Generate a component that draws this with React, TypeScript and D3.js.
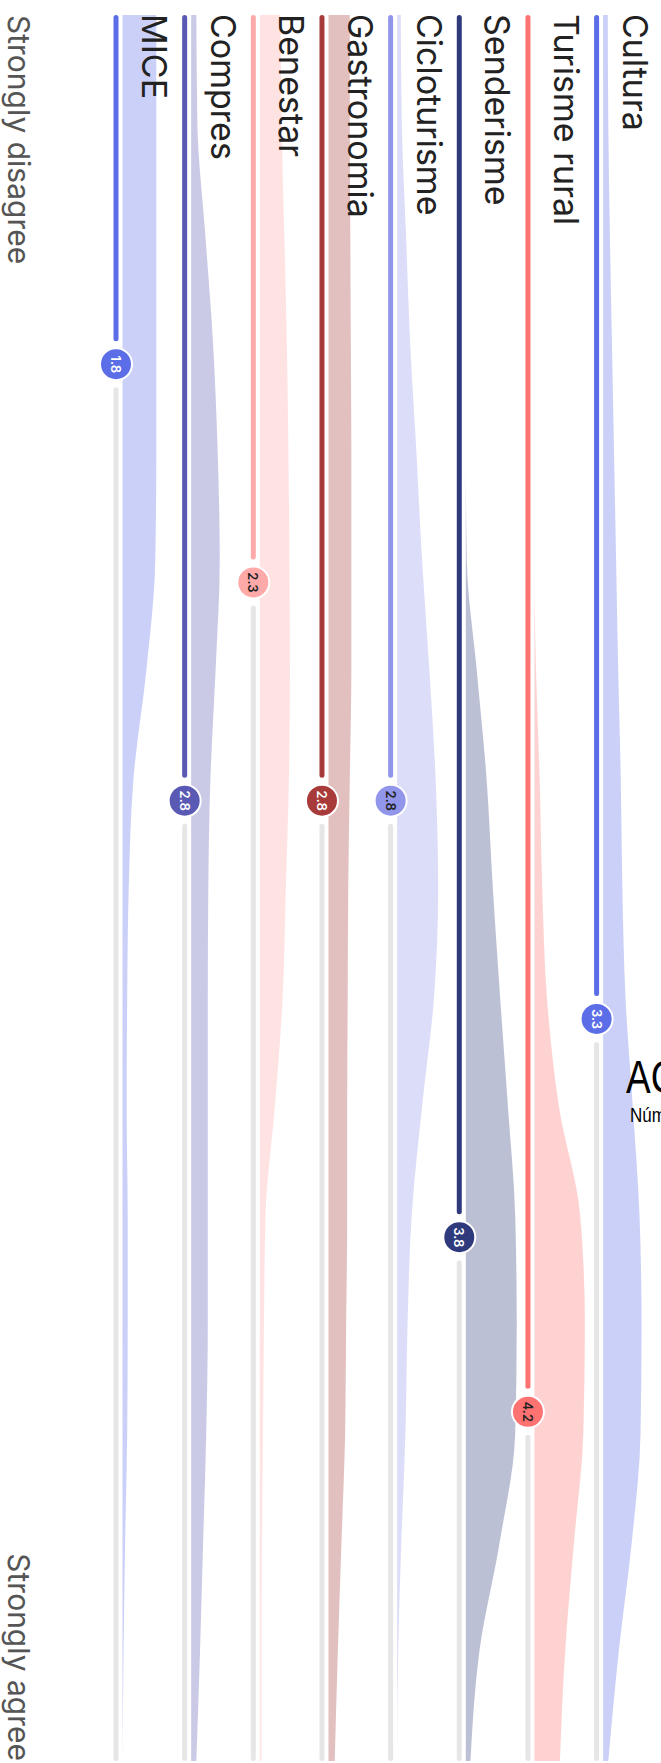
import * as d3 from 'd3';

// categories, top-to-bottom in the original (left-to-right once rotated)
const categories = ['MICE', 'Compres', 'Benestar', 'Gastronomia', 'Cicloturisme', 'Senderisme', 'Turisme rural', 'Cultura'];
const means = [1.8, 2.8, 2.3, 2.8, 2.8, 3.8, 4.2, 3.3];
const colors = ['#5b6ee8', '#5a5ab4', '#ffa9a9', '#a83a3a', '#9296ea', '#2f3a7c', '#ff7272', '#5b6ee8'];
const valueTextColors = ['#ffffff', '#ffffff', '#222222', '#ffffff', '#222222', '#ffffff', '#222222', '#ffffff'];

// score points where the distribution was read (1 = strongly disagree, 5 = strongly agree)
const scorePoints = [1, 1.25, 1.5, 1.75, 2, 2.25, 2.5, 2.75, 3, 3.25, 3.5, 3.75, 4, 4.25, 4.5, 4.75, 5];

const densityMICE = [0.65, 0.65, 0.65, 0.65, 0.65, 0.63, 0.46, 0.21, 0.12, 0.09, 0.08, 0.1, 0.1, 0.09, 0.05, 0.02, 0];
const densityCompres = [0.1, 0.12, 0.27, 0.42, 0.51, 0.55, 0.47, 0.37, 0.33, 0.32, 0.32, 0.32, 0.32, 0.29, 0.23, 0.17, 0.1];
const densityBenestar = [0.4, 0.42, 0.47, 0.52, 0.55, 0.57, 0.58, 0.56, 0.5, 0.44, 0.29, 0.11, 0.08, 0.06, 0.04, 0.03, 0.03];
const densityGastronomia = [0.41, 0.41, 0.42, 0.43, 0.44, 0.44, 0.44, 0.41, 0.38, 0.37, 0.36, 0.36, 0.34, 0.32, 0.25, 0.18, 0.12];
const densityCicloturisme = [0.07, 0.09, 0.17, 0.25, 0.37, 0.48, 0.62, 0.74, 0.79, 0.71, 0.48, 0.28, 0.2, 0.16, 0.08, 0.02, 0];
const densitySenderisme = [0, 0, 0, 0, 0, 0.02, 0.21, 0.4, 0.52, 0.66, 0.81, 0.95, 0.98, 0.95, 0.65, 0.26, 0.09];
const densityTurismeRural = [0, 0, 0, 0, 0, 0, 0.03, 0.1, 0.15, 0.24, 0.47, 0.88, 0.97, 0.94, 0.76, 0.59, 0.49];
const densityCultura = [0.09, 0.1, 0.13, 0.17, 0.21, 0.25, 0.29, 0.34, 0.37, 0.43, 0.57, 0.7, 0.74, 0.72, 0.55, 0.3, 0.1];

const densities = [
  densityMICE, densityCompres, densityBenestar, densityGastronomia,
  densityCicloturisme, densitySenderisme, densityTurismeRural, densityCultura,
];

const WIDTH = 661;
const HEIGHT = 1763;

export default function App() {
  // the chart is drawn rotated: score runs down the page, categories across
  const y = d3.scaleLinear().domain([1, 5]).range([15, 1761]);
  const x = d3.scalePoint<string>().domain(categories).range([116, 596.6]);
  const w = d3.scaleLinear().domain([0, 1]).range([0, 52]);

  const gap = 25.5;

  return (
    <div style={{ position: 'absolute', left: 0, top: 0 }}>
      <svg width={WIDTH} height={HEIGHT} style={{ display: 'block', overflow: 'hidden' }}>
        <rect width={WIDTH} height={HEIGHT} fill="#ffffff" />

        {/* distributions */}
        {categories.map((c, i) => {
          const cx = x(c) || 0;
          const area = d3.area<number>()
            .y((_, j) => y(scorePoints[j]))
            .x0(cx + 6.5)
            .x1(d => cx + 6.5 + w(d))
            .curve(d3.curveMonotoneY);
          return (
            <path key={'d' + c} d={area(densities[i]) || ''} fill={colors[i]} fillOpacity={0.32} />
          );
        })}

        {/* lines */}
        {categories.map((c, i) => {
          const cx = x(c) || 0;
          return (
            <g key={'l' + c} strokeWidth={5} strokeLinecap="round">
              <line x1={cx} x2={cx} y1={y(means[i]) + gap} y2={y(5) - 2.5} stroke="#e6e6e6" />
              <line x1={cx} x2={cx} y1={y(1) + 2.5} y2={y(means[i]) - gap} stroke={colors[i]} />
            </g>
          );
        })}

        {/* category labels */}
        {categories.map(c => {
          const cx = x(c) || 0;
          return (
            <text
              key={'t' + c}
              transform={`translate(${cx + 26},${y(1) - 1}) rotate(90)`}
              fontFamily="Inter, 'Noto Sans', sans-serif"
              fontSize={34}
              fill="#222222"
            >
              {c}
            </text>
          );
        })}

        {/* mean dots */}
        {categories.map((c, i) => {
          const cx = x(c) || 0;
          const cy = y(means[i]);
          return (
            <g key={'m' + c}>
              <circle cx={cx} cy={cy} r={16} fill={colors[i]} stroke="#ffffff" strokeWidth={2} />
              <text
                transform={`translate(${cx},${cy}) rotate(90)`}
                textAnchor="middle"
                dominantBaseline="central"
                fontFamily="Inter, sans-serif"
                fontSize={13}
                fontWeight={600}
                fill={valueTextColors[i]}
              >
                {means[i].toFixed(1)}
              </text>
            </g>
          );
        })}

        {/* axis ends */}
        <text
          transform={`translate(8,${y(1)}) rotate(90)`}
          fontFamily="Inter, sans-serif"
          fontSize={30}
          fill="#555555"
        >
          Strongly disagree
        </text>
        <text
          transform={`translate(8,${y(5)}) rotate(90)`}
          textAnchor="end"
          fontFamily="Inter, sans-serif"
          fontSize={30}
          fill="#555555"
        >
          Strongly agree
        </text>

        {/* title, cut by the page edge as in the original */}
        <text
          transform="translate(626,1093) scale(1,1.25)"
          fontFamily="'Liberation Sans', Arial, sans-serif"
          fontSize={37}
          fill="#000000"
        >
          ACTIVITATS
        </text>
        <text
          transform="translate(630,1122) scale(1,1.2)"
          fontFamily="'Liberation Sans', Arial, sans-serif"
          fontSize={17}
          fill="#000000"
        >
          Número de respostes
        </text>
      </svg>
    </div>
  );
}
